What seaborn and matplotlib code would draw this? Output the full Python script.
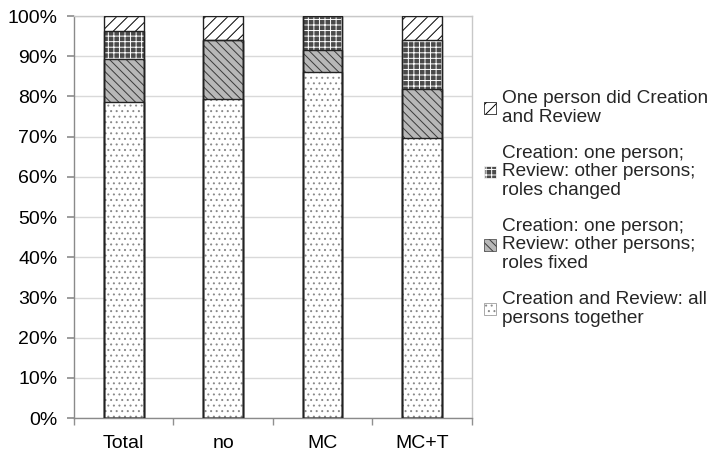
import matplotlib
matplotlib.use("Agg")
import matplotlib.pyplot as plt
import seaborn as sns
import numpy as np
import pandas as pd
from matplotlib.patches import Patch
from matplotlib.ticker import FuncFormatter

# ---- data (percent of each group) ----
categories = ["Total", "no", "MC", "MC+T"]
all_together = [78.5, 79.3, 86.0, 69.6]
roles_fixed = [10.7, 14.7, 5.5, 12.2]
roles_changed = [7.0, 0.0, 8.5, 12.2]
one_person = [3.8, 6.0, 0.0, 6.0]

labels = [
    "One person did Creation\nand Review",
    "Creation: one person;\nReview: other persons;\nroles changed",
    "Creation: one person;\nReview: other persons;\nroles fixed",
    "Creation and Review: all\npersons together",
]

sns.set_theme(style="white")
plt.rcParams["font.family"] = ["Liberation Sans", "DejaVu Sans"]
plt.rcParams["hatch.linewidth"] = 0.7

fig = plt.figure(figsize=(7.18, 4.58), dpi=100)
ax = fig.add_axes([0.103, 0.087, 0.554, 0.878])

df = pd.DataFrame({
    "cat": categories,
    "all": all_together,
    "fixed": roles_fixed,
    "changed": roles_changed,
    "one": one_person,
})
df["c1"] = df["all"]
df["c2"] = df["c1"] + df["fixed"]
df["c3"] = df["c2"] + df["changed"]
df["c4"] = df["c3"] + df["one"]

styles = [
    ("c4", dict(face="white", hc="black", hatch="///")),
    ("c3", dict(face="#4a4a4a", hc="white", hatch="+++")),
    ("c2", dict(face="#b8b8b8", hc="#3a3a3a", hatch="\\\\\\\\")),
    ("c1", dict(face="white", hc="#8a8a8a", hatch="...")),
]

bw = 0.4
for col, st in styles:
    sns.barplot(data=df, x="cat", y=col, ax=ax, color=st["face"], saturation=1,
                edgecolor=st["hc"], hatch=st["hatch"], linewidth=0, width=bw,
                zorder=2)
for col, st in styles:
    sns.barplot(data=df, x="cat", y=col, ax=ax, fill=False, color="#222222",
                linewidth=1.0, width=bw, zorder=3)

fs = 14
ax.set_xlim(-0.5, 3.5)
ax.set_ylim(0, 100)
ax.set_yticks(np.arange(0, 101, 10))
ax.yaxis.set_major_formatter(FuncFormatter(lambda v, p: f"{int(v)}%"))
ax.set_xlabel("")
ax.set_ylabel("")
ax.yaxis.grid(True, color="#d9d9d9", linewidth=1)
ax.set_axisbelow(True)

ax.set_xticks(range(len(categories)))
ax.set_xticklabels(categories)
ax.set_xticks([-0.5, 0.5, 1.5, 2.5, 3.5], minor=True)
ax.tick_params(axis="x", which="major", length=0, pad=12, labelsize=fs, labelcolor="black")
ax.tick_params(axis="x", which="minor", length=5, color="#909090", direction="out", bottom=True)
ax.tick_params(axis="y", length=5, color="#909090", direction="out", left=True,
               labelsize=fs, labelcolor="black", pad=7)

for s in ["top", "right"]:
    ax.spines[s].set_color("#c8c8c8")
for s in ["left", "bottom"]:
    ax.spines[s].set_color("#8a8a8a")
for s in ax.spines.values():
    s.set_linewidth(1)

handles = [Patch(facecolor=st["face"], edgecolor=st["hc"], hatch=st["hatch"], linewidth=0.5)
           for _, st in styles]
leg = fig.legend(handles, labels, loc="center left", bbox_to_anchor=(0.664, 0.545),
                 frameon=False, fontsize=13.7, handlelength=0.6, handleheight=0.6,
                 handletextpad=0.35, labelspacing=1.0, borderaxespad=0)
for t in leg.get_texts():
    t.set_linespacing(1.12)

fig.savefig("out.png", dpi=100)
